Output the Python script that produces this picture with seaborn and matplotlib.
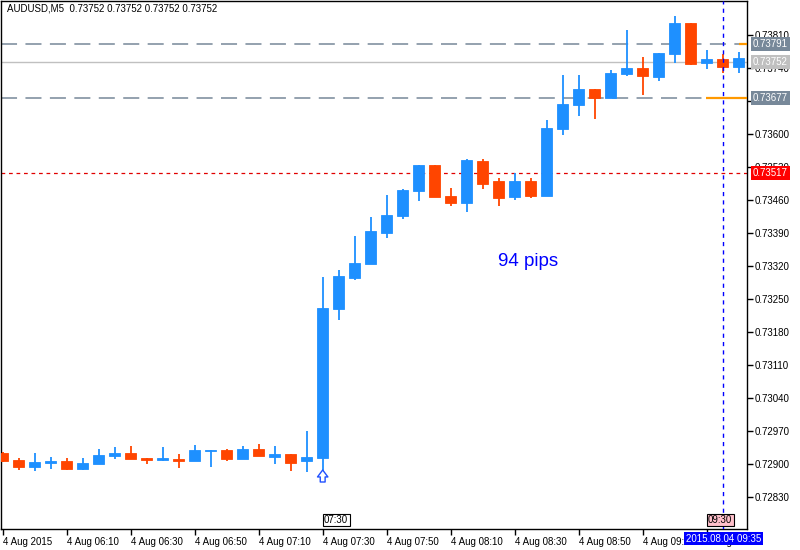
import matplotlib
matplotlib.use("Agg")
import matplotlib.pyplot as plt
import seaborn as sns
import pandas as pd
from matplotlib.transforms import blended_transform_factory

# ---------------- data (AUDUSD M5, 4 Aug 2015, 05:50 .. 09:40) ----------------
opens = [0.72923, 0.72908, 0.72894, 0.72903, 0.72906, 0.72890, 0.72901, 0.72918,
         0.72924, 0.72913, 0.72908, 0.72911, 0.72907, 0.72928, 0.72930, 0.72911,
         0.72932, 0.72915, 0.72922, 0.72907, 0.72913, 0.73229, 0.73295, 0.73325,
         0.73390, 0.73426, 0.73479, 0.73534, 0.73468, 0.73454, 0.73542, 0.73500,
         0.73467, 0.73500, 0.73469, 0.73611, 0.73662, 0.73695, 0.73676, 0.73727,
         0.73740, 0.73721, 0.73770, 0.73835, 0.73751, 0.73759, 0.73742]
highs = [0.72925, 0.72913, 0.72924, 0.72914, 0.72913, 0.72913, 0.72932, 0.72935,
         0.72939, 0.72913, 0.72935, 0.72922, 0.72941, 0.72930, 0.72932, 0.72939,
         0.72943, 0.72939, 0.72922, 0.72971, 0.73297, 0.73311, 0.73383, 0.73424,
         0.73470, 0.73484, 0.73534, 0.73534, 0.73485, 0.73547, 0.73546, 0.73506,
         0.73517, 0.73506, 0.73629, 0.73725, 0.73725, 0.73695, 0.73735, 0.73820,
         0.73763, 0.73771, 0.73850, 0.73835, 0.73778, 0.73769, 0.73773]
lows = [0.72905, 0.72888, 0.72886, 0.72889, 0.72888, 0.72888, 0.72899, 0.72911,
        0.72911, 0.72899, 0.72907, 0.72892, 0.72907, 0.72894, 0.72907, 0.72911,
        0.72918, 0.72901, 0.72886, 0.72882, 0.72886, 0.73205, 0.73290, 0.73325,
        0.73380, 0.73420, 0.73458, 0.73467, 0.73447, 0.73435, 0.73484, 0.73447,
        0.73460, 0.73464, 0.73469, 0.73597, 0.73638, 0.73632, 0.73676, 0.73723,
        0.73682, 0.73713, 0.73751, 0.73746, 0.73738, 0.73730, 0.73730]
closes = [0.72907, 0.72894, 0.72904, 0.72907, 0.72890, 0.72902, 0.72920, 0.72924,
          0.72911, 0.72909, 0.72913, 0.72907, 0.72930, 0.72930, 0.72911, 0.72932,
          0.72918, 0.72922, 0.72903, 0.72915, 0.73231, 0.73299, 0.73326, 0.73394,
          0.73428, 0.73482, 0.73534, 0.73467, 0.73454, 0.73544, 0.73494, 0.73465,
          0.73500, 0.73469, 0.73612, 0.73663, 0.73695, 0.73676, 0.73729, 0.73740,
          0.73723, 0.73771, 0.73835, 0.73749, 0.73759, 0.73742, 0.73761]

xtick_pos = [0, 4, 8, 12, 16, 20, 24, 28, 32, 36, 40, 44]
xtick_labels = ["4 Aug 2015", "4 Aug 06:10", "4 Aug 06:30", "4 Aug 06:50",
                "4 Aug 07:10", "4 Aug 07:30", "4 Aug 07:50", "4 Aug 08:10",
                "4 Aug 08:30", "4 Aug 08:50", "4 Aug 09:10", "4 Aug 09:30"]
ytick_vals = [0.72830, 0.72900, 0.72970, 0.73040, 0.73110, 0.73180, 0.73250,
              0.73320, 0.73390, 0.73460, 0.73530, 0.73600, 0.73670, 0.73740, 0.73810]

level_high = 0.73791
level_low = 0.73677
bid_price = 0.73752
red_level = 0.73517
vline_idx = 45
arrow_idx = 20

df = pd.DataFrame({"o": opens, "h": highs, "l": lows, "c": closes})
df["i"] = range(len(df))
df["up"] = df["c"] >= df["o"]

# ---------------- figure ----------------
sns.set_theme(style="white")
plt.rcParams["font.family"] = ["Liberation Sans", "DejaVu Sans"]
W, H = 800, 550
FS = 7.0
fig = plt.figure(figsize=(W / 100, H / 100), dpi=100)
ax = fig.add_axes([1 / W, (H - 529) / H, 746 / W, 528 / H])
ax.set_facecolor("white")

BLUE = "#1E90FF"
RED = "#FF4500"
colors = [BLUE if u else RED for u in df["up"]]

# wicks
ax.vlines(df["i"], df["l"], df["h"], colors=colors, linewidth=1.3, zorder=3)
# bodies
bottoms = df[["o", "c"]].min(axis=1)
heights = (df["c"] - df["o"]).abs()
ax.bar(df["i"], heights, bottom=bottoms, width=0.68, color=colors,
       edgecolor=colors, linewidth=0.6, zorder=4)

# horizontal levels
ax.axhline(level_high, color="#778899", lw=1.1, dashes=(10.5, 5.5), zorder=2)
ax.axhline(level_low, color="#778899", lw=1.1, dashes=(10.5, 5.5), zorder=2)
ax.axhline(bid_price, color="#C0C0C0", lw=1.0, zorder=1)
ax.axhline(red_level, color="#E00000", lw=0.9, dashes=(3.0, 3.0), zorder=2)
ax.axvline(vline_idx, color="#0000FF", lw=1.0, dashes=(3.0, 3.0), zorder=5)

xmin, xmax = -0.106, 46.52
ax.hlines(level_high, 46.02, xmax, color="#FF9900", lw=1.6, zorder=6)
ax.hlines(level_low, 43.96, xmax, color="#FF9900", lw=1.6, zorder=6)

ax.set_xlim(xmin, xmax)
ax.set_ylim(0.727621, 0.738822)

# axes styling
for s in ax.spines.values():
    s.set_visible(True)
    s.set_color("black")
    s.set_linewidth(1.0)
ax.yaxis.tick_right()
ax.set_yticks(ytick_vals)
ax.set_yticklabels([f"{v:.5f}" for v in ytick_vals])
ax.set_xticks(xtick_pos)
ax.set_xticklabels(xtick_labels, ha="left")
ax.tick_params(axis="y", which="both", direction="out", length=4, width=1,
               pad=1.5, labelsize=FS, colors="black", right=True, left=False)
ax.tick_params(axis="x", which="both", direction="out", length=4, width=1,
               pad=2, labelsize=FS, colors="black", bottom=True)
ax.grid(False)

# right-side price boxes
trb = blended_transform_factory(ax.transAxes, ax.transData)
xb = (753 - 1) / 746
for val, bg in [(level_high, "#778899"), (bid_price, "#C0C0C0"),
                (level_low, "#778899"), (red_level, "#FF0000")]:
    ax.text(xb, val, f"{val:.5f}", transform=trb, ha="left", va="center",
            fontsize=FS, color="white", clip_on=False, zorder=20,
            bbox=dict(boxstyle="square,pad=0.2", fc=bg, ec="none"))

# title
fig.text(7 / W, 1 - 8.5 / H, "AUDUSD,M5  0.73752 0.73752 0.73752 0.73752",
         fontsize=FS, ha="left", va="center", color="black")

# 94 pips annotation
ax.text(30.96, 0.73321, "94 pips", fontsize=13.5, color="#0000FF",
        ha="left", va="baseline", zorder=10)

# hollow up-arrow under the breakout candle
y_arrow_top = 0.72830 + (497 - 470) / 47140
y_arrow_bot = 0.72830 + (497 - 482) / 47140
ax.annotate("", xy=(arrow_idx, y_arrow_top), xytext=(arrow_idx, y_arrow_bot),
            arrowprops=dict(arrowstyle="simple,head_width=0.75,head_length=0.5,tail_width=0.35",
                            fc="white", ec="#2050FF", lw=1.0, mutation_scale=10,
                            shrinkA=0, shrinkB=0),
            zorder=10)

# time boxes on the axis
fig.text(324 / W, 1 - 520 / H, "07:30", fontsize=FS, ha="left", va="center",
         color="black", bbox=dict(boxstyle="square,pad=0.15", fc="white", ec="black", lw=0.8))
fig.text(708 / W, 1 - 520 / H, "09:30", fontsize=FS, ha="left", va="center",
         color="black", bbox=dict(boxstyle="square,pad=0.15", fc="#FFC0CB", ec="black", lw=0.8))
fig.text(686 / W, 1 - 538.5 / H, "2015.08.04 09:35", fontsize=FS, ha="left", va="center",
         color="white", zorder=30,
         bbox=dict(boxstyle="square,pad=0.2", fc="#0000FF", ec="none"))

fig.savefig("out.png", dpi=100, facecolor="white")
